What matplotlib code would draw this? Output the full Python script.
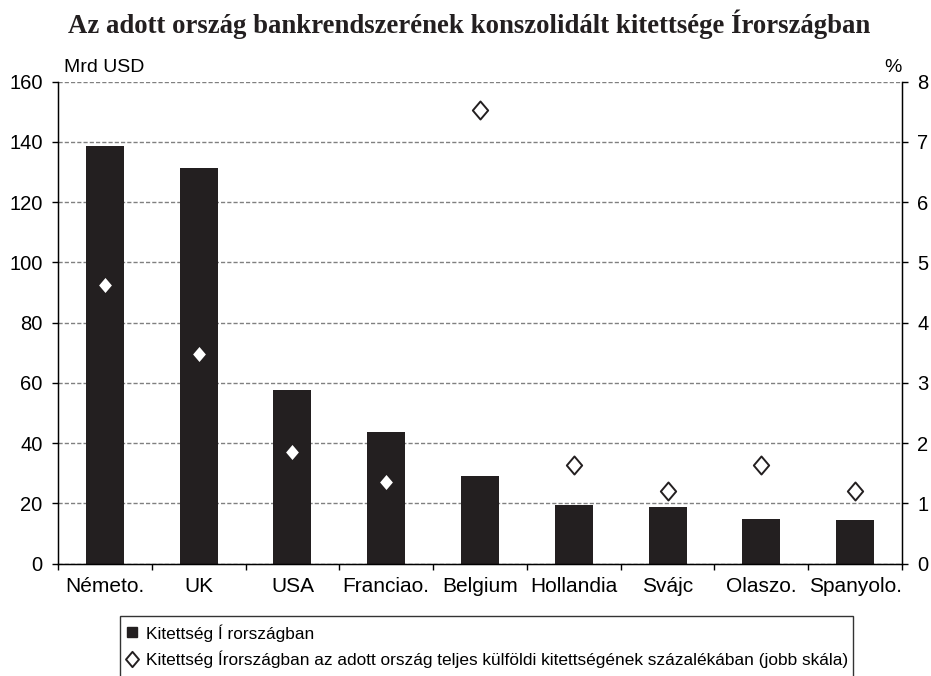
import matplotlib
matplotlib.use('Agg')
import matplotlib.pyplot as plt
from matplotlib.path import Path
from matplotlib.patches import Rectangle
from matplotlib.lines import Line2D

plt.rcParams['font.family'] = ['Liberation Sans', 'DejaVu Sans']

# adatok
countries = ['Németo.', 'UK', 'USA', 'Franciao.', 'Belgium',
             'Hollandia', 'Svájc', 'Olaszo.', 'Spanyolo.']
exposure = [138.5, 131.5, 57.5, 43.7, 29.0, 19.4, 18.8, 14.9, 14.3]       # Mrd USD
exposure_pct = [4.62, 3.48, 1.85, 1.35, 7.53, 1.64, 1.21, 1.64, 1.21]     # % (jobb skála)

title = 'Az adott ország bankrendszerének konszolidált kitettsége Írországban'
label_bar = 'Kitettség Í rországban'
label_pct = 'Kitettség Írországban az adott ország teljes külföldi kitettségének százalékában (jobb skála)'

W, H = 931, 676
fig = plt.figure(figsize=(W / 100, H / 100), dpi=100)
ax = fig.add_axes([58 / W, 1 - 563.5 / H, (902 - 58) / W, (563.5 - 81.7) / H])

x = list(range(len(countries)))
bars = ax.bar(x, exposure, width=0.405, color='#231f20', zorder=2)

ax.set_xlim(-0.5, len(countries) - 0.5)
ax.set_ylim(0, 160)
ax.set_yticks(range(0, 161, 20))
ax.set_xticks(x)
ax.set_xticklabels(countries, fontsize=15)
ax.set_xticks([i - 0.5 for i in range(len(countries) + 1)], minor=True)
ax.tick_params(axis='x', which='major', length=0, pad=10)
ax.tick_params(axis='x', which='minor', length=4, direction='out', width=1)
ax.tick_params(axis='y', labelsize=14.5, length=4, width=1, pad=7)
ax.yaxis.grid(True, color='#808080', linestyle=(0, (3, 1.5)), linewidth=1, zorder=0)
ax.set_axisbelow(True)
ax.spines['top'].set_visible(False)
for s in ['left', 'right', 'bottom']:
    ax.spines[s].set_linewidth(1)

ax2 = ax.twinx()
ax2.set_ylim(0, 8)
ax2.set_yticks(range(0, 9))
ax2.tick_params(axis='y', labelsize=14.5, length=4, width=1, pad=7)
ax2.spines['top'].set_visible(False)

diamond = Path([(0, 1), (0.85, 0), (0, -1), (-0.85, 0), (0, 1)],
               [Path.MOVETO, Path.LINETO, Path.LINETO, Path.LINETO, Path.CLOSEPOLY])
ax2.plot(x, exposure_pct, linestyle='none', marker=diamond, markersize=13,
         markerfacecolor='white', markeredgecolor='#231f20', markeredgewidth=1.4, zorder=3)

fig.text(469 / W, 1 - 33 / H, title, ha='center', va='baseline',
         fontsize=19.3, fontweight='bold', family=['Liberation Serif', 'DejaVu Serif'],
         color='#231f20')
fig.text(64 / W, 1 - 72 / H, 'Mrd USD', ha='left', va='baseline', fontsize=14)
fig.text(902 / W, 1 - 72 / H, '%', ha='right', va='baseline', fontsize=14)

# jelmagyarázat doboz (alja lelóg a képről)
fig.patches.append(Rectangle((120 / W, -0.05), (853 - 120) / W, (676 - 616) / H + 0.05,
                             transform=fig.transFigure, fill=False,
                             edgecolor='#333333', linewidth=1))
h1 = Line2D([], [], linestyle='none', marker='s', markersize=7,
            markerfacecolor='#231f20', markeredgecolor='#231f20')
h2 = Line2D([], [], linestyle='none', marker=diamond, markersize=11,
            markerfacecolor='white', markeredgecolor='#231f20', markeredgewidth=1.4)
fig.legend([h1, h2], [label_bar, label_pct], loc='upper left',
           bbox_to_anchor=(124 / W, 1 - 624 / H), bbox_transform=fig.transFigure,
           frameon=False, fontsize=12.4, borderpad=0, borderaxespad=0,
           handlelength=0.9, handletextpad=0.35, labelspacing=0.5)

fig.savefig('out.png', dpi=100)
